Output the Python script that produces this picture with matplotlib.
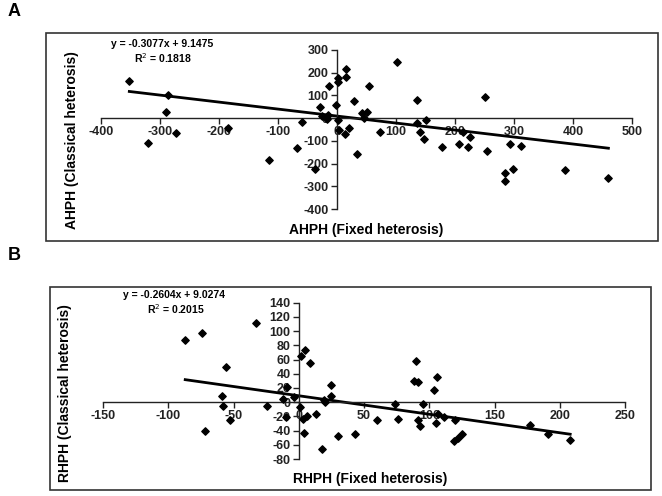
import matplotlib.pyplot as plt
from matplotlib.patches import Rectangle

plt.rcParams['font.family'] = ['Liberation Sans', 'DejaVu Sans']
plt.rcParams['axes.unicode_minus'] = False

# panel A: AHPH fixed vs classical heterosis
a_fixed = [-352, -287, -290, -273, -320, -185, -115, -67, -60, -38, -29, -25, -17, -15,
           -13, -2, 1, 2, 2, 4, 14, 15, 16, 21, 29, 34, 42, 45, 50, 55, 73, 101,
           135, 136, 141, 147, 151, 178, 207, 214, 222, 225, 251, 254, 284, 285,
           293, 299, 312, 386, 460]
a_classical = [164, 101, 26, -65, -109, -44, -185, -132, -16, -222, 47, 10, -3, 13,
               141, 57, -9, 175, 160, -53, -72, 182, 216, -45, 76, -156, 21, -1, 28, 141, -63, 245,
               -21, 82, -60, -90, -6, -126, -115, -60, -126, -85, 91, -145, -276, -241,
               -116, -222, -122, -229, -263]
a_slope, a_icept, a_r2 = -0.3077, 9.1475, 0.1818

# panel B: RHPH fixed vs classical heterosis
b_fixed = [-87, -74, -72, -56, -59, -58, -53, -33, -24, -12, -9, -10, -4, 1, 4, 2, 5, 9,
           3, 6, 13, 18, 19, 20, 25, 25, 30, 43, 60, 74, 76, 90, 88, 91, 91, 93, 95,
           104, 106, 105, 107, 111, 120, 119, 122, 125, 177, 191, 208]
b_classical = [87, 97, -41, 50, 9, -6, -25, 111, -6, 4, 22, -21, 7, -7, -44, 65, 73, 55,
               -24, -19, -17, -66, 3, 0, 24, 8, -48, -45, -25, -2, -23, 58, 30, 28, -25, -34, -2,
               17, 35, -30, -16, -21, -25, -55, -50, -45, -32, -45, -53]
b_slope, b_icept, b_r2 = -0.2604, 9.0274, 0.2015

W, H = 662, 496
fig = plt.figure(figsize=(W / 100, H / 100), dpi=100)


def px(x0, y0, x1, y1):
    return [x0 / W, 1 - y1 / H, (x1 - x0) / W, (y1 - y0) / H]


def panel(box, axpos, xs, ys, slope, icept, r2, xlim, ylim, xticks, yticks,
          eq_xy, name, xlab_xy, ylab_xy, letter_xy, letter):
    bx0, by0, bx1, by1 = box
    fig.add_artist(Rectangle((bx0 / W, 1 - by1 / H), (bx1 - bx0) / W, (by1 - by0) / H,
                             transform=fig.transFigure, fill=False, ec='#333333', lw=1.2))
    ax = fig.add_axes(px(*axpos))
    ax.set_facecolor('none')
    ax.set_xlim(xlim)
    ax.set_ylim(ylim)
    for s in ['top', 'right']:
        ax.spines[s].set_visible(False)
    ax.spines['left'].set_position('zero')
    ax.spines['bottom'].set_position('zero')
    for s in ['left', 'bottom']:
        ax.spines[s].set_color('#222222')
        ax.spines[s].set_linewidth(1.0)
    ax.set_xticks(xticks)
    ax.set_yticks(yticks)
    ax.tick_params(length=4, width=1, labelsize=9, colors='#222222', pad=2)
    for lab in ax.get_xticklabels() + ax.get_yticklabels():
        lab.set_fontweight('bold')
    ax.scatter(xs, ys, marker='D', s=14, c='black', zorder=3)
    x0, x1 = min(xs), max(xs)
    ax.plot([x0, x1], [slope * x0 + icept, slope * x1 + icept], color='black', lw=2, zorder=2)

    fig.text(eq_xy[0] / W, 1 - eq_xy[1] / H, f'y = {slope}x + {icept}',
             ha='left', va='center', fontsize=7.5, fontweight='bold')
    fig.text(eq_xy[2] / W, 1 - eq_xy[3] / H, f'R$^2$ = {r2}',
             ha='center', va='center', fontsize=7.5, fontweight='bold')
    fig.text(xlab_xy[0] / W, 1 - xlab_xy[1] / H, f'{name} (Fixed heterosis)',
             ha='center', va='center', fontsize=10, fontweight='bold')
    fig.text(ylab_xy[0] / W, 1 - ylab_xy[1] / H, f'{name} (Classical heterosis)',
             ha='center', va='center', fontsize=10, fontweight='bold', rotation=90)
    fig.text(letter_xy[0] / W, 1 - letter_xy[1] / H, letter,
             ha='left', va='center', fontsize=13, fontweight='bold')
    return ax


panel((46, 33, 658, 241), (101, 50, 632, 209), a_fixed, a_classical,
      a_slope, a_icept, a_r2, (-400, 500), (-400, 300),
      range(-400, 501, 100), range(-400, 301, 100),
      (111, 44, 163, 58), 'AHPH', (366, 230), (72, 140), (8, 12), 'A')

panel((50, 287, 651, 490), (103, 302.7, 625, 459), b_fixed, b_classical,
      b_slope, b_icept, b_r2, (-150, 250), (-80, 140),
      range(-150, 251, 50), range(-80, 141, 20),
      (123, 295, 176, 309), 'RHPH', (370, 479), (65, 393), (8, 256), 'B')

fig.savefig('out.png', dpi=100)
